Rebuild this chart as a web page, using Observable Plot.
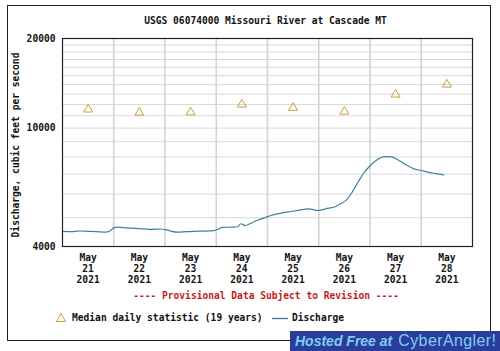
<!DOCTYPE html>
<html><head><meta charset="utf-8">
<script src="https://cdn.jsdelivr.net/npm/d3@7"></script>
<script src="https://cdn.jsdelivr.net/npm/@observablehq/plot@0.6"></script>
<style>
body{margin:0;background:#fff;width:500px;height:351px;overflow:hidden;position:relative;font-family:"DejaVu Sans Mono",monospace;font-weight:bold;font-size:9.6px;color:#111}
.abs{position:absolute;white-space:nowrap;line-height:12px}
</style></head><body>
<div id="chart" class="abs" style="left:0;top:0"></div>
<div class="abs" style="left:7px;top:5px;width:482px;height:334px;border:1px solid #222"></div>
<div class="abs" style="left:0;width:531px;top:15px;text-align:center">USGS 06074000 Missouri River at Cascade MT</div>
<div class="abs" style="left:-84px;width:200px;top:139px;text-align:center;transform:rotate(-90deg)">Discharge, cubic feet per second</div>
<div class="abs" style="left:0;width:532px;top:290px;text-align:center;color:#c41c1c">---- Provisional Data Subject to Revision ----</div>
<div class="abs" style="left:55px;top:312px">
  <svg width="12" height="12" style="vertical-align:top"><path d="M6,1.5 L10.5,9.5 L1.5,9.5 Z" fill="none" stroke="#c9a040" stroke-width="1"/></svg>
</div>
<div class="abs" style="left:72px;top:312px">Median daily statistic (19 years)</div>
<div class="abs" style="left:271px;top:312px"><svg width="18" height="12" style="vertical-align:top"><line x1="1" x2="17" y1="6.5" y2="6.5" stroke="#3d7b93" stroke-width="1.3"/></svg></div>
<div class="abs" style="left:292px;top:312px">Discharge</div>
<div class="abs" style="left:290px;top:331px;width:210px;height:20px;background:#2b3d9b;color:#7fcdf3;font-family:'Liberation Sans',sans-serif;font-style:italic;font-weight:bold;font-size:14px;line-height:20px;overflow:hidden">
  <span style="margin-left:5px">Hosted Free at</span><span style="font-style:normal;font-weight:normal;font-size:16px;letter-spacing:0.4px;margin-left:6px">CyberAngler!</span>
</div>
<script>
// Median daily statistic (19 years), at noon of each day
const medianDays = [21, 22, 23, 24, 25, 26, 27, 28];
const medianValues = [11550, 11280, 11300, 12000, 11700, 11370, 12970, 14010];

// Discharge: hours since 2021-05-21 00:00 and cfs
const dischargeHours = [0, 4, 8, 12, 16, 20, 22, 24, 26, 30, 34, 38, 42, 46, 48, 51, 54, 58, 62, 66, 71, 73, 75, 80, 82, 83.5, 85.5, 88, 91, 95, 99, 103, 107, 111, 115, 117, 119.5, 122, 124.5, 127, 130, 133.5, 136, 138.5, 141, 143.5, 147, 151, 154, 158, 161, 164.5, 168, 171, 175, 178.5];
const dischargeValues = [4500, 4490, 4510, 4500, 4490, 4470, 4500, 4620, 4645, 4620, 4600, 4585, 4570, 4580, 4560, 4500, 4470, 4490, 4500, 4505, 4525, 4580, 4640, 4645, 4660, 4770, 4705, 4780, 4890, 5010, 5120, 5190, 5245, 5300, 5355, 5330, 5285, 5320, 5380, 5420, 5560, 5786, 6150, 6600, 7050, 7400, 7800, 8020, 8000, 7750, 7520, 7300, 7200, 7110, 7030, 6966];

const yTicks = [4000, 10000, 20000];
const yGrid = d3.range(5000, 20000, 1000);
const tickDays = [21, 22, 23, 24, 25, 26, 27, 28];

const day = d => new Date(Date.UTC(2021, 4, d));
const base = Date.UTC(2021, 4, 21);
const discharge = dischargeHours.map((h, i) => ({date: new Date(base + h * 3600e3), value: dischargeValues[i]}));
const medians = medianDays.map((d, i) => ({date: new Date(Date.UTC(2021, 4, d, 12)), value: medianValues[i]}));
const midnights = d3.range(22, 29).map(day);
const noons = tickDays.map(d => new Date(Date.UTC(2021, 4, d, 12)));

const chart = Plot.plot({
  width: 500, height: 351,
  marginLeft: 62, marginRight: 28, marginTop: 38, marginBottom: 105,
  style: {fontFamily: "DejaVu Sans Mono, monospace", fontSize: "9.6px", fontWeight: "bold", background: "transparent", color: "#111"},
  x: {type: "utc", domain: [day(21), day(29)], axis: null},
  y: {type: "log", domain: [4000, 20000], axis: null},
  marks: [
    Plot.ruleY(yGrid, {stroke: "#d9d9d9", strokeWidth: 1}),
    Plot.ruleX(midnights, {stroke: "#d2d2d2", strokeWidth: 1.5}),
    Plot.line(discharge, {x: "date", y: "value", stroke: "#40809a", strokeWidth: 1.2, curve: "monotone-x"}),
    Plot.dot(medians, {x: "date", y: "value", symbol: "triangle", r: 3.3, stroke: "#c9a040", strokeWidth: 1, fill: "none"}),
    Plot.frame({stroke: "#222", strokeWidth: 1.2}),
    Plot.axisY({ticks: yTicks, tickSize: 0, tickPadding: 7, tickFormat: d => String(d), label: null, fill: "#111"}),
    Plot.text(noons, {x: d => d, frameAnchor: "bottom", lineAnchor: "top", dy: 7, lineHeight: 1.15,
      text: tickDays.map(d => `May\n${d}\n2021`), fill: "#111"})
  ]
});
document.getElementById("chart").appendChild(chart);
</script>
</body></html>
